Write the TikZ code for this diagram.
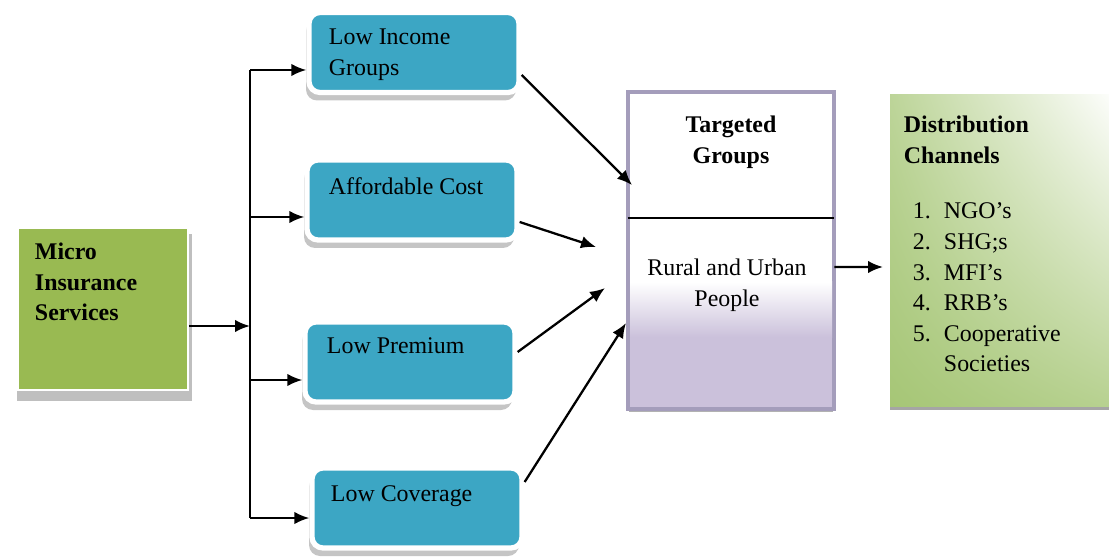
\documentclass[tikz,border=0pt]{standalone}
\usepackage{fontspec}
\setmainfont{Liberation Serif}
\usetikzlibrary{arrows.meta, shadows, shadings}

\definecolor{microgreen}{HTML}{99BA52}
\definecolor{boxteal}{HTML}{3CA6C4}
\definecolor{lavender}{HTML}{CBC1DB}
\definecolor{lavline}{HTML}{A49DBB}
\definecolor{chgreen}{HTML}{A6C676}

\begin{document}
\begin{tikzpicture}[line width = 1.1pt, >={Latex[length=3mm, width=2.5mm]},
        micro/.style = {rectangle, draw = white, line width = 1pt, fill = microgreen,
                        minimum width = 3.4cm, minimum height = 3.24cm,
                        drop shadow = {shadow xshift = 0.03cm, shadow yshift = -0.17cm, shadow scale = 1.03, fill = black!50}},
        item/.style = {rectangle, rounded corners = 0.22cm, draw = white, line width = 3pt, fill = boxteal,
                       minimum width = 4.2cm, minimum height = 1.6cm,
                       drop shadow = {shadow xshift = -0.06cm, shadow yshift = -0.16cm, fill = black!45}},
        target/.style = {rectangle, draw = lavline, line width = 1.5pt, fill = white,
                         minimum width = 4.08cm, minimum height = 6.3cm,
                         drop shadow = {shadow xshift = 0cm, shadow yshift = -0.08cm, fill = black!60}},
        channel/.style = {rectangle, minimum width = 4.6cm, minimum height = 6.22cm,
                          upper left = chgreen!75, upper right = white, lower left = chgreen, lower right = chgreen!80,
                          drop shadow = {shadow xshift = 0cm, shadow yshift = -0.08cm, fill = black!70}},
        txt/.style = {anchor = north west, align = left, inner sep = 0pt, font = \fontsize{13.6}{17.4}\selectfont},
        head/.style = {txt, font = \fontsize{13.6}{17.4}\selectfont\bfseries},
        link/.style = {->, line width = 1.3pt}]
      \useasboundingbox (0, 0) rectangle (22.18, 11.14);

      \node [micro] (mis) at (2.06, 4.96){};
      \node [head] (mist) at (0.68, 6.3){Micro\\Insurance\\Services};

      \node [item] (b1) at (8.28, 10.09){};
      \node [item] (b2) at (8.24, 7.14){};
      \node [item] (b3) at (8.2, 3.9){};
      \node [item] (b4) at (8.34, 0.98){};
      \node [txt] (b1t) at (6.56, 10.58){Low Income\\Groups};
      \node [txt] (b2t) at (6.56, 7.6){Affordable Cost};
      \node [txt] (b3t) at (6.52, 4.4){Low Premium};
      \node [txt] (b4t) at (6.6, 1.44){Low Coverage};

      \node [target] (tg) at (14.62, 6.13){};
      \shade [top color = white, bottom color = lavender] (12.6, 5.5) rectangle (16.64, 4.4);
      \fill [lavender] (12.6, 4.4) rectangle (16.64, 3.0);
      \draw [lavline, line width = 1.5pt] (tg.south west) rectangle (tg.north east);
      \coordinate (dv) at (0, 6.78);
      \draw [line width = 1pt] (tg.west |- dv) -- (tg.east |- dv);
      \node [head, anchor = north, align = center] (tgt) at (14.62, 8.84){Targeted\\Groups};
      \node [txt, anchor = north, align = center] (tgp) at (14.54, 5.98){Rural and Urban\\People};

      \node [channel] (dc) at (20.1, 6.13){};
      \node [head] (dct) at (18.06, 8.84){Distribution\\Channels};
      \node [txt] (dcl) at (18.24, 7.21){\begin{tabular}{@{}p{0.62cm}@{}l@{}}
          1. & NGO's\\
          2. & SHG;s\\
          3. & MFI's\\
          4. & RRB's\\
          5. & Cooperative\\
             & Societies
        \end{tabular}};

      \coordinate (j0) at (5, 4.62);
      \coordinate (j1) at (5, 9.74);
      \coordinate (j2) at (5, 6.8);
      \coordinate (j3) at (5, 3.54);
      \coordinate (j4) at (5, 0.78);
      \draw [line width = 1pt] (j1) -- (j4);
      \draw [link] (mis.east |- j0) -- (j0);
      \draw [link] (j1) -- (j1 -| b1.west);
      \draw [link] (j2) -- (j2 -| b2.west);
      \draw [link] (j3) -- (j3 -| b3.west);
      \draw [link] (j4) -- (j4 -| b4.west);

      \coordinate (e1) at (12.64, 7.44);
      \coordinate (e2) at (11.92, 6.2);
      \coordinate (e3) at (12.1, 5.38);
      \coordinate (e4) at (12.52, 4.68);
      \coordinate (e5) at (17.66, 5.8);
      \draw [link] ([yshift=-0.45cm]b1.east) -- (e1);
      \draw [link] ([yshift=-0.44cm]b2.east) -- (e2);
      \draw [link] ([yshift=0.2cm]b3.east) -- (e3);
      \draw [link] ([yshift=0.52cm]b4.east) -- (e4);
      \draw [link] ([yshift=-0.33cm]tg.east) -- (e5);
\end{tikzpicture}
\end{document}
